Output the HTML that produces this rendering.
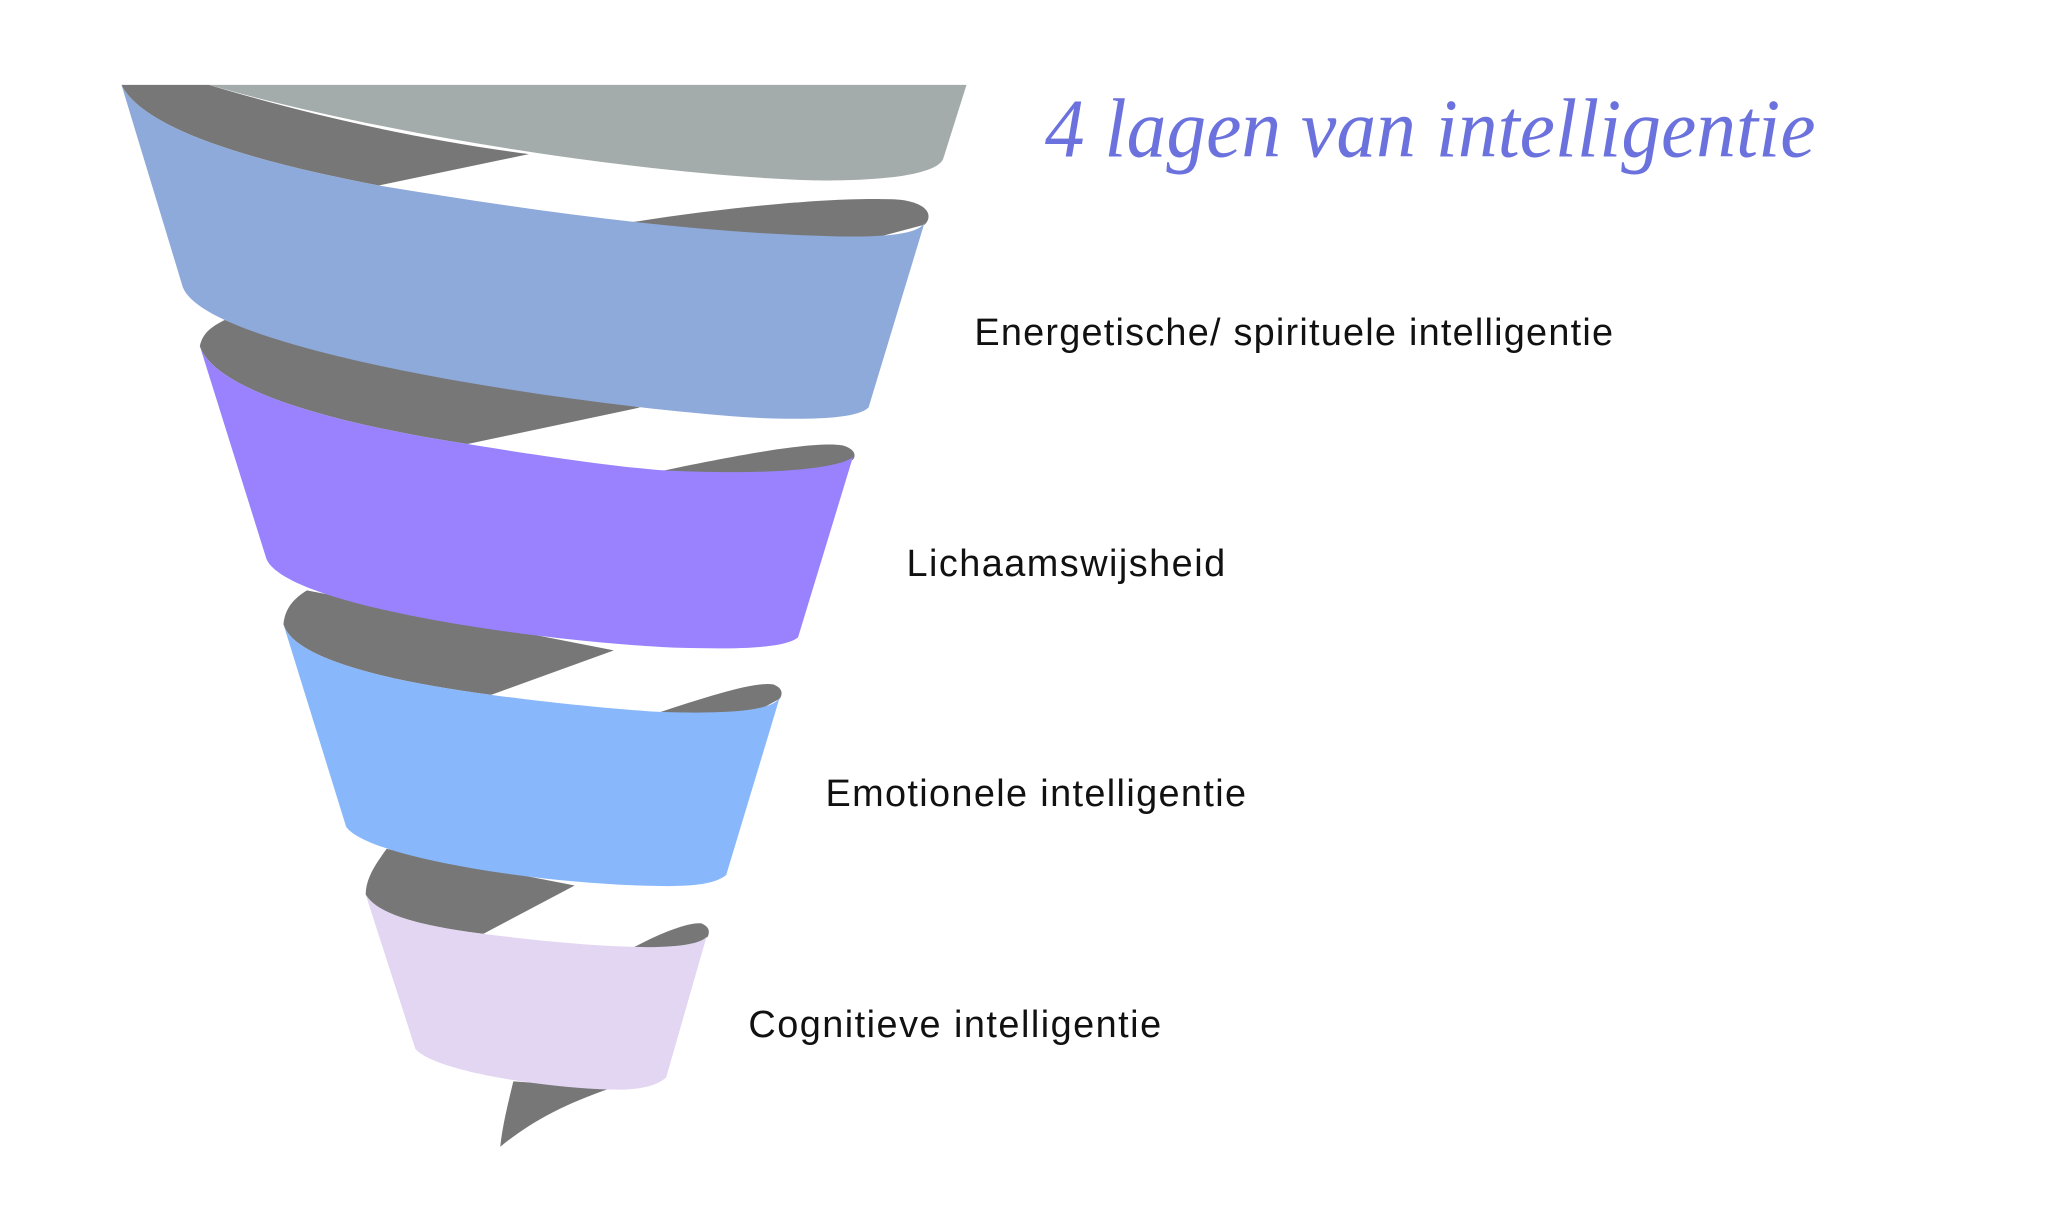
<!DOCTYPE html>
<html><head><meta charset="utf-8"><style>
html,body{margin:0;padding:0;background:#fff;}
svg{display:block;}
</style></head><body>
<svg width="2048" height="1232" viewBox="0 0 1568 943.3" preserveAspectRatio="none" xmlns="http://www.w3.org/2000/svg">
<rect width="1568" height="943.3" fill="#fff"/>
<g fill="#777777">
<path d="M93,65 L160,65 C250,92 330,108 405,118 L290,142 C200,125 110,100 93,65 Z"/>
<path d="M460,174 C560,157 650,150 690,153 C712,156 714,166 708,172 L640,190 L460,180 Z"/>
<path d="M153,265 C155,255 162,250 172,245 L490,312 L358,340 C260,325 165,300 153,265 Z"/>
<path d="M500,362 C575,346 625,338 645,341 C656,344 655,350 653,352 L600,370 L500,368 Z"/>
<path d="M217,478 C218,466 225,458 235,452 L470,498 L376,532 C300,522 225,505 217,478 Z"/>
<path d="M500,547 C548,531 578,522 592,524 C600,527 599,532 597,535 L560,555 L500,552 Z"/>
<path d="M280,685 C280,672 288,661 296,650 L440,678 L370,715 C330,710 290,702 280,685 Z"/>
<path d="M482,727 C508,713 528,706 537,707 C544,710 543,714 542,717 L520,735 L482,732 Z"/>
<path d="M393,828 L468,833 C430,846 405,860 383,878 C385,860 389,845 393,828 Z"/>
</g>
<path fill="#a3acaa" d="M160,65 L740,65 L722,122 C715,136 660,139 620,138 C500,134 300,105 160,65 Z"/>
<path fill="#8eaada" d="M93,65 C110,100 200,125 290,142 C400,160 520,178 640,181 C690,182 705,177 708,170 L665,312 C655,322 610,321 580,320 C450,312 160,270 140,220 Z"/>
<path fill="#9a82ff" d="M153,265 C165,300 260,325 358,340 C420,350 470,357 505,360 C580,364 640,360 653,350 L611,488 C600,497 560,497 520,496 C420,492 220,465 204,428 Z"/>
<path fill="#88b8fb" d="M217,478 C225,505 300,522 376,532 C420,538 470,543 503,545 C560,547 592,544 597,534 L556,670 C545,679 520,679 490,678 C400,675 280,655 265,633 Z"/>
<path fill="#e2d6f2" d="M280,685 C290,702 330,710 370,715 C410,720 450,724 485,725 C520,726 538,722 541,717 L510,825 C500,834 480,835 460,834 C400,831 330,818 318,803 Z"/>
<g font-family="'Liberation Sans', sans-serif" font-size="29" fill="#111" lengthAdjust="spacingAndGlyphs">
<text x="746" y="264" textLength="489">Energetische/ spirituele intelligentie</text>
<text x="694" y="441" textLength="244">Lichaamswijsheid</text>
<text x="632" y="617" textLength="322">Emotionele intelligentie</text>
<text x="573" y="794" textLength="316">Cognitieve intelligentie</text>
</g>
<text x="800" y="120" font-family="'Liberation Serif', serif" font-style="italic" font-size="64" fill="#6b72dd" textLength="590" lengthAdjust="spacingAndGlyphs">4 lagen van intelligentie</text>
</svg>
</body></html>
